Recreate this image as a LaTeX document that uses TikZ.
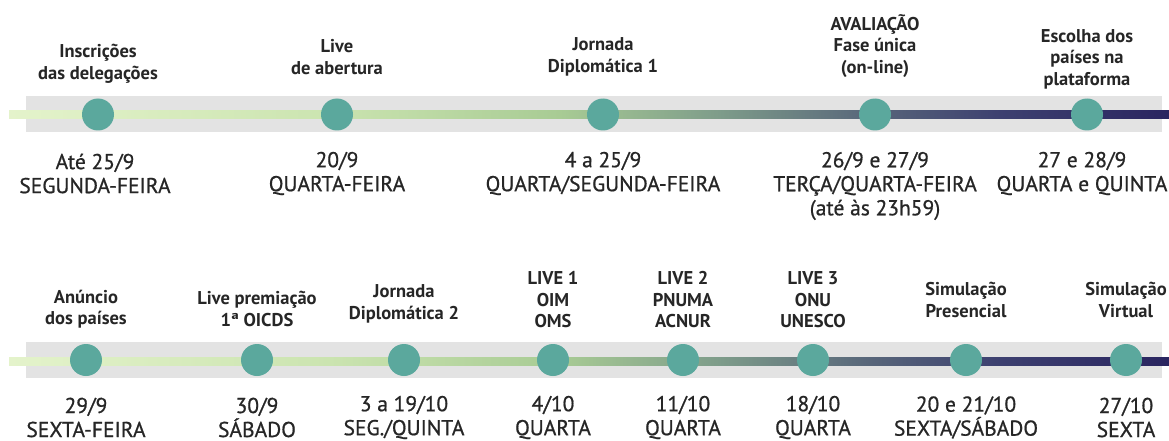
\documentclass[tikz,border=0pt]{standalone}
\usepackage{fontspec}
\setmainfont{PT Sans}
\newfontfamily\datefont[FakeBold=0.8]{PT Sans}
\definecolor{band}{HTML}{E3E3E3}
\definecolor{dotc}{HTML}{5BA89D}
\definecolor{txt}{HTML}{262626}
\definecolor{l0}{HTML}{E4F3CB}
\definecolor{l1}{HTML}{CBE4B0}
\definecolor{l2}{HTML}{A8CB94}
\definecolor{l3}{HTML}{7E9C8A}
\definecolor{l4}{HTML}{58667A}
\definecolor{l5}{HTML}{3D4070}
\definecolor{l6}{HTML}{2A2560}
\pgfdeclarehorizontalshading{tline}{100bp}{color(0bp)=(l0); color(25bp)=(l0); color(38.8bp)=(l1); color(48.75bp)=(l2); color(55.6bp)=(l3); color(62.1bp)=(l4); color(67.7bp)=(l5); color(75bp)=(l6); color(100bp)=(l6)}
\tikzset{
  dot/.style={circle, fill=dotc, minimum size=32pt, inner sep=0pt},
  lab/.style={align=center, text=txt, inner sep=0pt, font=\bfseries\fontsize{18.5}{21.5}\selectfont},
  dat/.style={align=center, text=txt, inner sep=0pt, font=\datefont\fontsize{21.5}{24}\selectfont},
}
\begin{document}
\begin{tikzpicture}[x=1pt,y=-1pt]
\useasboundingbox (0,0) rectangle (1169,441);
% top row
\fill[band] (26,96) rectangle (1162,132);
\coordinate (ts) at (9,111);
\coordinate (te) at (1169,119);
\shade[shading=tline] (ts) rectangle (te);
\node[dot] (t1) at (98,114.5) {};
\node[dot] (t2) at (337,114.5) {};
\node[dot] (t3) at (603,114.5) {};
\node[dot] (t4) at (875,114.5) {};
\node[dot] (t5) at (1087,114.5) {};
\node[lab] (t1l) at (98,64) {Inscrições\\das delegações};
\node[lab] (t2l) at (337,57) {Live\\de abertura};
\node[lab] (t3l) at (603,57) {Jornada\\Diplomática 1};
\node[lab] (t4l) at (875,46) {AVALIAÇÃO\\Fase única\\(on-line)};
\node[lab] (t5l) at (1087,59) {Escolha dos\\países na\\plataforma};
\node[dat] (t1d) at (95,173.5) {Até 25/9\\SEGUNDA-FEIRA};
\node[dat] (t2d) at (337,173.5) {20/9\\QUARTA-FEIRA};
\node[dat] (t3d) at (603,173.5) {4 a 25/9\\QUARTA/SEGUNDA-FEIRA};
\node[dat] (t4d) at (875,186) {26/9 e 27/9\\TERÇA/QUARTA-FEIRA\\(até às 23h59)};
\node[dat] (t5d) at (1082,173.5) {27 e 28/9\\QUARTA e QUINTA};
% bottom row
\fill[band] (26,342) rectangle (1162,378);
\coordinate (bs) at (9,357);
\coordinate (be) at (1169,365);
\shade[shading=tline] (bs) rectangle (be);
\node[dot] (b1) at (86,360) {};
\node[dot] (b2) at (257,360) {};
\node[dot] (b3) at (404,360) {};
\node[dot] (b4) at (553,360) {};
\node[dot] (b5) at (683,360) {};
\node[dot] (b6) at (813,360) {};
\node[dot] (b7) at (966,360) {};
\node[dot] (b8) at (1126,360) {};
\node[lab] (b1l) at (86,309) {Anúncio\\dos países};
\node[lab] (b2l) at (257,309) {Live premiação\\1ª OICDS};
\node[lab] (b3l) at (404,304) {Jornada\\Diplomática 2};
\node[lab] (b4l) at (553,300) {LIVE 1\\OIM\\OMS};
\node[lab] (b5l) at (683,300) {LIVE 2\\PNUMA\\ACNUR};
\node[lab] (b6l) at (813,300) {LIVE 3\\ONU\\UNESCO};
\node[lab] (b7l) at (966,300) {Simulação\\Presencial};
\node[lab] (b8l) at (1126,300) {Simulação\\Virtual};
\node[dat] (b1d) at (86,417.5) {29/9\\SEXTA-FEIRA};
\node[dat] (b2d) at (257,417.5) {30/9\\SÁBADO};
\node[dat] (b3d) at (404,417.5) {3 a 19/10\\SEG./QUINTA};
\node[dat] (b4d) at (553,417.5) {4/10\\QUARTA};
\node[dat] (b5d) at (683,417.5) {11/10\\QUARTA};
\node[dat] (b6d) at (813,417.5) {18/10\\QUARTA};
\node[dat] (b7d) at (966,417.5) {20 e 21/10\\SEXTA/SÁBADO};
\node[dat] (b8d) at (1126,417.5) {27/10\\SEXTA};
\end{tikzpicture}
\end{document}
